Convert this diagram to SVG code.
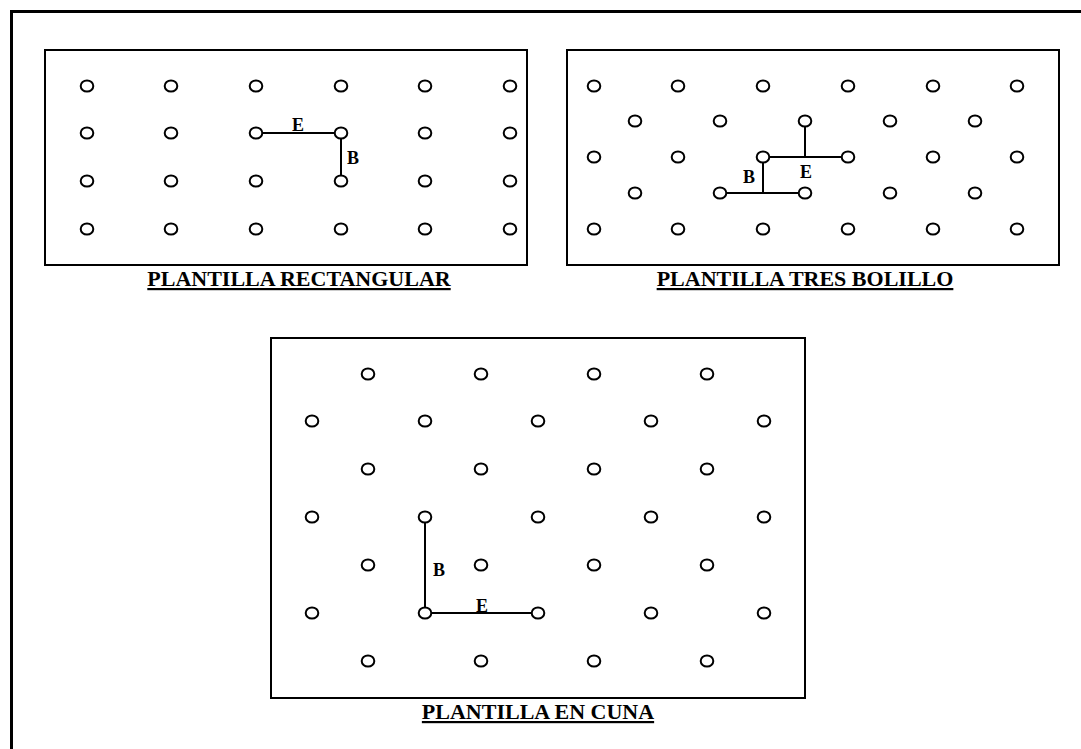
<svg xmlns="http://www.w3.org/2000/svg" width="1081" height="749" viewBox="0 0 1081 749">
<style>
.frame{fill:none;stroke:#000;stroke-width:3}
.panel{fill:none;stroke:#000;stroke-width:2}
.hole{fill:#fff;stroke:#000;stroke-width:2}
.dim{fill:none;stroke:#000;stroke-width:2}
.lbl{font-family:"Liberation Serif","Times New Roman",serif;font-weight:bold;font-size:18px;fill:#000}
.title{font-family:"Liberation Serif","Times New Roman",serif;font-weight:bold;font-size:22px;fill:#000;text-decoration:underline;text-decoration-thickness:2.3px}
</style>
<defs>
<ellipse id="h" cx="0" cy="0" rx="6.3" ry="5.5" class="hole"/>
</defs>
<rect width="1081" height="749" fill="#fff"/>
<path class="frame" d="M11.5,1100 V11.5 H1100"/>

<g id="connectors">
<path class="dim" d="M256,133 H341 V181"/>
<path class="dim" d="M805,121 V157 M763,157 H848 M763,157 V193 M720,193 H805"/>
<path class="dim" d="M425,517 V613 H538"/>
</g>

<g id="rectangular">
<rect class="panel" x="45" y="50" width="482" height="215"/>
<use href="#h" x="87" y="86"/><use href="#h" x="171" y="86"/><use href="#h" x="256" y="86"/><use href="#h" x="341" y="86"/><use href="#h" x="425" y="86"/><use href="#h" x="510" y="86"/>
<use href="#h" x="87" y="133"/><use href="#h" x="171" y="133"/><use href="#h" x="256" y="133"/><use href="#h" x="341" y="133"/><use href="#h" x="425" y="133"/><use href="#h" x="510" y="133"/>
<use href="#h" x="87" y="181"/><use href="#h" x="171" y="181"/><use href="#h" x="256" y="181"/><use href="#h" x="341" y="181"/><use href="#h" x="425" y="181"/><use href="#h" x="510" y="181"/>
<use href="#h" x="87" y="229"/><use href="#h" x="171" y="229"/><use href="#h" x="256" y="229"/><use href="#h" x="341" y="229"/><use href="#h" x="425" y="229"/><use href="#h" x="510" y="229"/>
<text class="lbl" x="298" y="131" text-anchor="middle">E</text>
<text class="lbl" x="353" y="164" text-anchor="middle">B</text>
<text class="title" x="299" y="286" text-anchor="middle">PLANTILLA RECTANGULAR</text>
</g>

<g id="tres-bolillo">
<rect class="panel" x="567" y="50" width="492" height="215"/>
<use href="#h" x="594" y="86"/><use href="#h" x="678" y="86"/><use href="#h" x="763" y="86"/><use href="#h" x="848" y="86"/><use href="#h" x="933" y="86"/><use href="#h" x="1017" y="86"/>
<use href="#h" x="635" y="121"/><use href="#h" x="720" y="121"/><use href="#h" x="805" y="121"/><use href="#h" x="890" y="121"/><use href="#h" x="975" y="121"/>
<use href="#h" x="594" y="157"/><use href="#h" x="678" y="157"/><use href="#h" x="763" y="157"/><use href="#h" x="848" y="157"/><use href="#h" x="933" y="157"/><use href="#h" x="1017" y="157"/>
<use href="#h" x="635" y="193"/><use href="#h" x="720" y="193"/><use href="#h" x="805" y="193"/><use href="#h" x="890" y="193"/><use href="#h" x="975" y="193"/>
<use href="#h" x="594" y="229"/><use href="#h" x="678" y="229"/><use href="#h" x="763" y="229"/><use href="#h" x="848" y="229"/><use href="#h" x="933" y="229"/><use href="#h" x="1017" y="229"/>
<text class="lbl" x="749" y="183" text-anchor="middle">B</text>
<text class="lbl" x="806" y="178" text-anchor="middle">E</text>
<text class="title" x="805" y="286" text-anchor="middle">PLANTILLA TRES BOLILLO</text>
</g>

<g id="cuna">
<rect class="panel" x="271" y="338" width="534" height="360"/>
<use href="#h" x="368" y="374"/><use href="#h" x="481" y="374"/><use href="#h" x="594" y="374"/><use href="#h" x="707" y="374"/>
<use href="#h" x="312" y="421"/><use href="#h" x="425" y="421"/><use href="#h" x="538" y="421"/><use href="#h" x="651" y="421"/><use href="#h" x="764" y="421"/>
<use href="#h" x="368" y="469"/><use href="#h" x="481" y="469"/><use href="#h" x="594" y="469"/><use href="#h" x="707" y="469"/>
<use href="#h" x="312" y="517"/><use href="#h" x="425" y="517"/><use href="#h" x="538" y="517"/><use href="#h" x="651" y="517"/><use href="#h" x="764" y="517"/>
<use href="#h" x="368" y="565"/><use href="#h" x="481" y="565"/><use href="#h" x="594" y="565"/><use href="#h" x="707" y="565"/>
<use href="#h" x="312" y="613"/><use href="#h" x="425" y="613"/><use href="#h" x="538" y="613"/><use href="#h" x="651" y="613"/><use href="#h" x="764" y="613"/>
<use href="#h" x="368" y="661"/><use href="#h" x="481" y="661"/><use href="#h" x="594" y="661"/><use href="#h" x="707" y="661"/>
<text class="lbl" x="439" y="576" text-anchor="middle">B</text>
<text class="lbl" x="482" y="612" text-anchor="middle">E</text>
<text class="title" x="538" y="719" text-anchor="middle">PLANTILLA EN CUNA</text>
</g>
</svg>
